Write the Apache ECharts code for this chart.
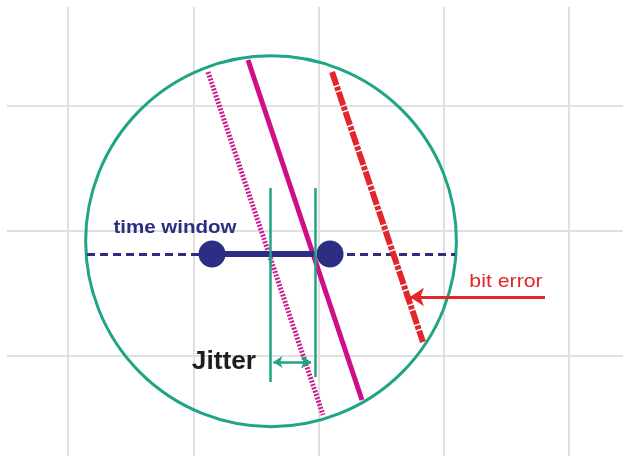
<!DOCTYPE html>
<html>
<head>
<meta charset="utf-8">
<script src="https://cdn.jsdelivr.net/npm/echarts@6/dist/echarts.min.js"></script>
<style>
  html, body { margin: 0; padding: 0; background: #fff; }
  #main { width: 623px; height: 456px; }
</style>
</head>
<body>
<div id="main"></div>
<script>
// units: one grid cell = 1 (about 125px), y grows downward
var gridXs = [0, 1, 2, 3, 4];
var gridYs = [0, 1, 2];
var gridStart = [-0.487, -0.792];

var ringCenter = [1.621, 1.082];
var ringRadius = 1.48;

var timeLine = [[0.152, 1.184], [3.09, 1.184]];
var windowBar = [[1.15, 1.184], [1.98, 1.184]];
var windowDots = [[1.15, 1.184], [2.092, 1.184]];

var jitterLeft = [[1.613, 0.656], [1.613, 2.208]];
var jitterRight = [[1.972, 0.656], [1.972, 2.168]];
var jitterArrow = [[1.64, 2.048], [1.94, 2.048]];

var solidEdge = [[1.437, -0.368], [2.347, 2.352]];
var hatchedEdge = [[1.118, -0.272], [2.036, 2.472]];
var errorEdge = [[2.108, -0.272], [2.834, 1.888]];
var errorArrow = [[3.808, 1.528], [2.73, 1.528]];

var labelTexts = ['time window', 'Jitter', 'bit error'];
var labelPos = [[0.854, 0.976], [1.501, 2.05], [3.497, 1.408]];

var teal = '#1fa585';
var navy = '#2d2e83';
var magenta = '#cf0f8a';
var red = '#e2262b';

var labelStyle = [
  { fill: navy, font: 'bold 19px "Liberation Sans", Arial, sans-serif', align: 'center', sx: 1.08 },
  { fill: '#1e1e1e', font: 'bold 25px "Liberation Sans", Arial, sans-serif', align: 'right', sx: 1.05 },
  { fill: red, font: '19px "Liberation Sans", Arial, sans-serif', align: 'center', sx: 1.12 }
];

var xMax = 4.431, yMax = 2.8;

var gridLines = [];
gridXs.forEach(function (x) { gridLines.push({ coords: [[x, gridStart[1]], [x, yMax]] }); });
gridYs.forEach(function (y) { gridLines.push({ coords: [[gridStart[0], y], [xMax, y]] }); });

function seg(pts, style, z, symbol, symbolSize) {
  return {
    type: 'lines',
    coordinateSystem: 'cartesian2d',
    polyline: false,
    z: z,
    symbol: symbol || 'none',
    symbolSize: symbolSize || 10,
    silent: true,
    lineStyle: style,
    data: [{ coords: pts }]
  };
}

var chart = echarts.init(document.getElementById('main'), null, { renderer: 'canvas' });
var option = {
  backgroundColor: '#ffffff',
  animation: false,
  grid: { left: 0, right: 0, top: 0, bottom: 0 },
  xAxis: { type: 'value', min: -68 / 125.25, max: xMax, show: false },
  yAxis: { type: 'value', min: -106 / 125, max: yMax, inverse: true, show: false },
  series: [
    {
      type: 'lines', coordinateSystem: 'cartesian2d', z: 1, silent: true,
      lineStyle: { color: '#e0e0e0', width: 2, opacity: 1 },
      data: gridLines
    },
    {
      type: 'custom', z: 2, silent: true,
      renderItem: function (params, api) {
        var c = api.coord([api.value(0), api.value(1)]);
        var s = api.size([api.value(2), api.value(2)]);
        return {
          type: 'circle',
          shape: { cx: c[0], cy: c[1], r: s[0] },
          style: { fill: 'none', stroke: teal, lineWidth: 3 }
        };
      },
      data: [[ringCenter[0], ringCenter[1], ringRadius]]
    },
    seg(timeLine, { color: navy, width: 3, type: [8, 5], opacity: 1 }, 3),
    seg(hatchedEdge, { color: '#cc1f8e', width: 5, type: [2, 1.5], opacity: 1 }, 4),
    seg(solidEdge, { color: magenta, width: 5, opacity: 1 }, 4),
    seg(windowBar, { color: navy, width: 6, opacity: 1 }, 5),
    {
      type: 'scatter', z: 6, silent: true,
      symbol: 'circle', symbolSize: 27,
      itemStyle: { color: navy, opacity: 1 },
      data: windowDots
    },
    seg(jitterLeft, { color: teal, width: 2.5, opacity: 1 }, 7),
    seg(jitterRight, { color: teal, width: 2.5, opacity: 1 }, 7),
    seg(jitterArrow, { color: teal, width: 2.5, opacity: 1 }, 7, ['arrow', 'arrow'], [9, 10]),
    seg(errorEdge, { color: red, width: 6, type: [14, 1.5, 4, 1.5], opacity: 1 }, 8),
    seg(errorArrow, { color: red, width: 3, opacity: 1 }, 8, ['none', 'arrow'], [12, 14]),
    {
      type: 'custom', z: 9, silent: true,
      renderItem: function (params, api) {
        var i = params.dataIndex;
        var c = api.coord([api.value(0), api.value(1)]);
        var st = labelStyle[i];
        return {
          type: 'text',
          x: c[0], y: c[1],
          scaleX: st.sx, scaleY: 1,
          style: {
            text: labelTexts[i],
            fill: st.fill,
            font: st.font,
            align: st.align,
            verticalAlign: 'middle'
          }
        };
      },
      data: labelPos
    }
  ]
};
chart.setOption(option);
</script>
</body>
</html>
